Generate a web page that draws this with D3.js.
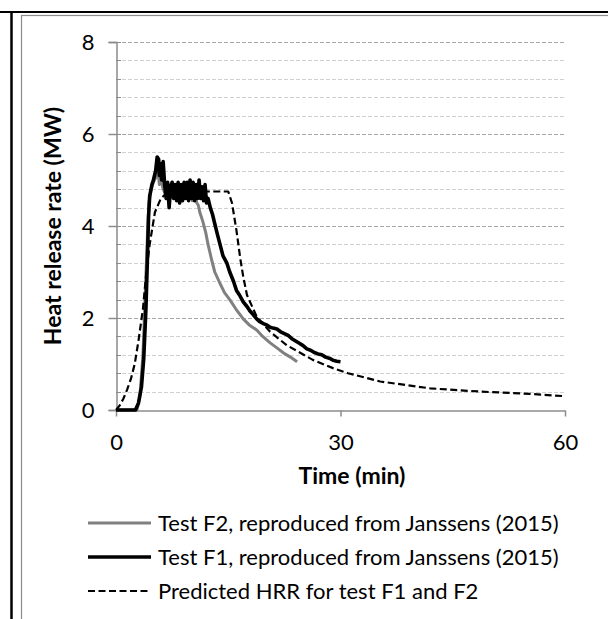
<!DOCTYPE html>
<html>
<head>
<meta charset="utf-8">
<script src="https://cdn.jsdelivr.net/npm/d3@7"></script>
<style>
  body { margin: 0; background: #fff; }
  text { font-family: Lato, "Open Sans", sans-serif; fill: #000; }
</style>
</head>
<body>
<div class="chart"></div>
<script>
// data: time (min), heat release rate (MW)
var f2Time = [0, 2.8, 3.2, 3.6, 3.9, 4.2, 4.4, 4.7, 5.0, 5.3, 5.6, 5.8, 6.0, 6.3, 6.6, 6.9, 7.2, 7.5, 7.8, 8.1, 8.4, 8.7, 9.0, 9.3, 9.6, 9.9, 10.2, 10.5, 10.8, 11.0, 11.2, 11.6, 12.0, 12.3, 12.8, 13.2, 13.9, 14.5, 15.2, 16.0, 17.0, 17.8, 18.8, 19.6, 20.6, 21.5, 22.4, 23.3, 24.2];
var f2Hrr = [0, 0, 0.3, 1.2, 2.5, 3.8, 4.5, 4.8, 4.95, 5.05, 5.2, 4.9, 5.05, 4.8, 4.7, 4.85, 4.6, 4.8, 4.65, 4.85, 4.6, 4.8, 4.6, 4.85, 4.65, 4.8, 4.55, 4.75, 4.5, 4.45, 4.3, 4.1, 3.85, 3.6, 3.25, 3.0, 2.75, 2.55, 2.4, 2.2, 1.98, 1.85, 1.74, 1.6, 1.46, 1.35, 1.24, 1.15, 1.05];

var f1Time = [0, 2.6, 3.0, 3.4, 3.7, 4.0, 4.2, 4.35, 4.5, 4.8, 5.0, 5.3, 5.5, 5.7, 5.8, 6.0, 6.1, 6.3, 6.5, 6.7, 6.9, 7.1, 7.3, 7.5, 7.7, 7.9, 8.1, 8.3, 8.5, 8.7, 8.9, 9.1, 9.3, 9.5, 9.7, 9.9, 10.1, 10.3, 10.5, 10.7, 10.9, 11.1, 11.3, 11.5, 11.7, 11.9, 12.1, 12.3, 12.6, 12.9, 13.2, 13.5, 13.9, 14.3, 14.8, 15.2, 15.7, 16.1, 16.5, 17.0, 17.5, 17.9, 18.3, 18.8, 19.2, 19.7, 20.1, 20.6, 21.0, 21.5, 22.0, 22.5, 23.0, 23.5, 24.0, 24.5, 25.0, 25.5, 26.0, 26.5, 27.0, 27.5, 28.0, 28.6, 29.0, 29.5, 30.0];
var f1Hrr = [0, 0, 0.15, 0.5, 1.1, 2.2, 3.3, 4.2, 4.65, 4.9, 5.0, 5.2, 5.5, 5.45, 5.1, 5.35, 5.0, 5.4, 4.9, 4.6, 4.95, 4.4, 4.85, 4.95, 4.6, 4.9, 4.55, 4.95, 4.5, 4.9, 4.55, 4.95, 4.6, 4.95, 4.55, 5.0, 4.6, 4.95, 4.55, 4.9, 4.6, 5.0, 4.6, 4.85, 4.55, 4.9, 4.5, 4.6, 4.4, 4.25, 4.05, 3.85, 3.6, 3.35, 3.2, 3.0, 2.8, 2.6, 2.5, 2.35, 2.25, 2.15, 2.08, 1.98, 1.92, 1.88, 1.85, 1.8, 1.78, 1.76, 1.7, 1.66, 1.62, 1.55, 1.5, 1.45, 1.4, 1.33, 1.3, 1.25, 1.22, 1.2, 1.15, 1.12, 1.08, 1.06, 1.05];

var predTime = [0, 0.5, 1.0, 1.5, 2.0, 2.5, 3.0, 3.6, 4.0, 4.5, 5.2, 6.0, 6.8, 8, 15, 15.5, 16.1, 16.6, 17.0, 17.5, 18.8, 20.6, 22.8, 26.3, 29, 31, 35.3, 42, 48.7, 55.3, 60];
var predHrr = [0, 0.1, 0.25, 0.45, 0.68, 1.0, 1.5, 2.2, 2.9, 3.6, 4.3, 4.6, 4.72, 4.75, 4.75, 4.5, 3.9, 3.3, 2.9, 2.5, 2.03, 1.7, 1.41, 1.09, 0.91, 0.8, 0.62, 0.47, 0.4, 0.35, 0.3];

var xTicks = [0, 30, 60];
var yTicks = [0, 2, 4, 6, 8];
var yMinor = d3.range(0, 8.01, 0.4);
var legendLabels = ["Test F2, reproduced from Janssens (2015)", "Test F1, reproduced from Janssens (2015)", "Predicted HRR for test F1 and F2"];

var svgWidth = 608, svgHeight = 619;
var svg = d3.select(".chart").append("svg")
  .attr("width", svgWidth)
  .attr("height", svgHeight);

// outer frames
svg.append("line").attr("x1", 0).attr("x2", svgWidth).attr("y1", 12).attr("y2", 12)
  .attr("stroke", "#000").attr("stroke-width", 2);
svg.append("line").attr("x1", 11.5).attr("x2", 11.5).attr("y1", 12).attr("y2", svgHeight)
  .attr("stroke", "#000").attr("stroke-width", 2.5);
svg.append("rect").attr("x", 21.5).attr("y", 15.5).attr("width", 620).attr("height", 640)
  .attr("fill", "none").attr("stroke", "#8c8c8c").attr("stroke-width", 1.2);

var x = d3.scaleLinear().domain([0, 60]).range([116, 565]);
var y = d3.scaleLinear().domain([0, 8]).range([410, 42]);

// gridlines, darker at the labelled values
svg.append("g").selectAll("line")
  .data(yMinor.filter(function(d) { return d > 0.01; }))
  .join("line")
  .attr("x1", x(0)).attr("x2", x(60))
  .attr("y1", function(d) { return Math.round(y(d)) + 0.5; })
  .attr("y2", function(d) { return Math.round(y(d)) + 0.5; })
  .attr("stroke", function(d) { return Math.abs(d / 2 - Math.round(d / 2)) < 0.01 ? "#a6a6a6" : "#d0d0d0"; })
  .attr("stroke-dasharray", "4,2");

// y axis
var yAxis = svg.append("g").attr("transform", "translate(116.5,0)")
  .call(d3.axisLeft(y).tickValues(yTicks).tickSize(8).tickPadding(14).tickFormat(d3.format("d")));
yAxis.select(".domain").attr("stroke", "#8c8c8c").attr("stroke-width", 1.5);
yAxis.selectAll(".tick line").attr("stroke", "#8c8c8c").attr("stroke-width", 1.5);
yAxis.selectAll("text").style("font-size", "22px").attr("fill", "#000");
svg.append("g").selectAll("line").data(yMinor).join("line")
  .attr("x1", 116).attr("x2", 121)
  .attr("y1", function(d) { return Math.round(y(d)) + 0.5; })
  .attr("y2", function(d) { return Math.round(y(d)) + 0.5; })
  .attr("stroke", "#8c8c8c");

// x axis
var xAxis = svg.append("g").attr("transform", "translate(0,410.5)")
  .call(d3.axisBottom(x).tickValues(xTicks).tickSize(6).tickSizeOuter(0));
xAxis.select(".domain").attr("stroke", "#8c8c8c").attr("stroke-width", 1.5);
xAxis.selectAll(".tick line").attr("stroke", "#8c8c8c").attr("stroke-width", 1.5);
xAxis.selectAll("text").style("font-size", "22px").attr("fill", "#000")
  .attr("y", 39).attr("dy", null);

// axis titles
svg.append("text").attr("x", 352).attr("y", 484).attr("text-anchor", "middle")
  .style("font-size", "23px").style("font-weight", "bold").text("Time (min)");
svg.append("text").attr("transform", "translate(61,226) rotate(-90)").attr("text-anchor", "middle")
  .style("font-size", "23px").style("font-weight", "bold").text("Heat release rate (MW)");

// series
var line = d3.line().x(function(d) { return x(d[0]); }).y(function(d) { return y(d[1]); });
var series = [
  { t: f2Time, v: f2Hrr, color: "#808080", width: 3, dash: null },
  { t: f1Time, v: f1Hrr, color: "#000", width: 3.6, dash: null },
  { t: predTime, v: predHrr, color: "#000", width: 2.2, dash: "7,3.5" }
];
series.forEach(function(s) {
  svg.append("path")
    .datum(d3.zip(s.t, s.v))
    .attr("d", line)
    .attr("fill", "none")
    .attr("stroke", s.color)
    .attr("stroke-width", s.width)
    .attr("stroke-linejoin", "round")
    .attr("stroke-dasharray", s.dash);
});

// legend
var legend = svg.append("g").selectAll("g").data(series).join("g")
  .attr("transform", function(d, i) { return "translate(0," + (523 + i * 34) + ")"; });
legend.append("line").attr("x1", 88).attr("x2", 151).attr("y1", 0).attr("y2", 0)
  .attr("stroke", function(d) { return d.color; })
  .attr("stroke-width", function(d) { return d.width; })
  .attr("stroke-dasharray", function(d) { return d.dash; });
legend.append("text").attr("x", 158).attr("y", 8)
  .style("font-size", "22px")
  .text(function(d, i) { return legendLabels[i]; });
</script>
</body>
</html>
